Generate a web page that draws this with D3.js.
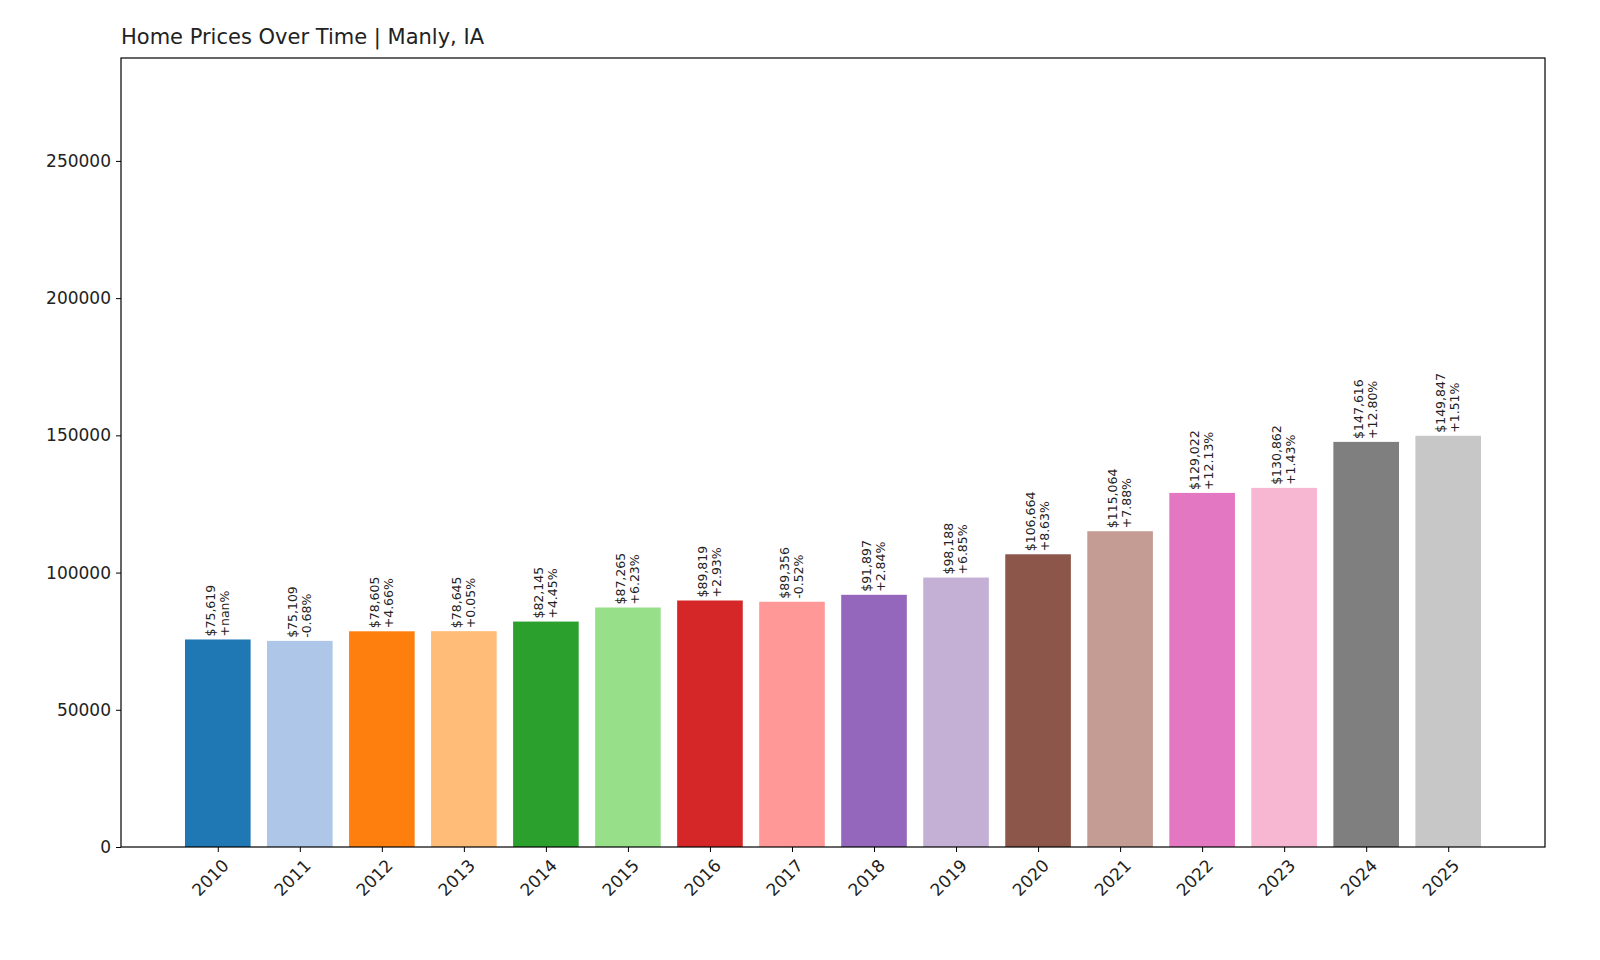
<!DOCTYPE html>
<html><head><meta charset="utf-8">
<script src="https://cdn.jsdelivr.net/npm/d3@7"></script>
<style>body{margin:0;background:#fff}text{font-family:"DejaVu Sans",sans-serif}</style>
</head><body><svg id="chart" width="1600" height="960"></svg>
<script>
// data
var years = ["2010","2011","2012","2013","2014","2015","2016","2017","2018","2019","2020","2021","2022","2023","2024","2025"];
var prices = [75619,75109,78605,78645,82145,87265,89819,89356,91897,98188,106664,115064,129022,130862,147616,149847];
var changes = ["+nan%","-0.68%","+4.66%","+0.05%","+4.45%","+6.23%","+2.93%","-0.52%","+2.84%","+6.85%","+8.63%","+7.88%","+12.13%","+1.43%","+12.80%","+1.51%"];
var colors = ["#1f77b4","#aec7e8","#ff7f0e","#ffbb78","#2ca02c","#98df8a","#d62728","#ff9896","#9467bd","#c5b0d5","#8c564b","#c49c94","#e377c2","#f7b6d2","#7f7f7f","#c7c7c7"];
var yTicks = [0,50000,100000,150000,200000,250000];

var svg = d3.select("#chart");
// plot box (window.top is reserved, so use other names)
var pLeft = 121, pRight = 1545, pTop = 58, pBottom = 847;

var x = d3.scaleLinear().domain([-1.18, years.length - 1 + 1.18]).range([pLeft, pRight]);
var y = d3.scaleLinear().domain([0, 287500]).range([pBottom, pTop]);
var bw = x(0.8) - x(0);

svg.selectAll("rect.bar").data(prices).enter().append("rect")
  .attr("x", function(d, i) { return x(i) - bw / 2; })
  .attr("y", function(d) { return y(d); })
  .attr("width", bw)
  .attr("height", function(d) { return pBottom - y(d); })
  .attr("fill", function(d, i) { return colors[i]; });

// value labels, rotated
var fmt = d3.format(",");
svg.selectAll("g.lbl").data(prices).enter().append("g")
  .attr("transform", function(d, i) { return "translate(" + x(i) + "," + (y(d) - 3) + ") rotate(-90)"; })
  .each(function(d, i) {
    var g = d3.select(this);
    g.append("text").attr("x", 0).attr("y", -3).attr("font-size", 12.5).attr("fill", "#222")
      .text("$" + fmt(d));
    g.append("text").attr("x", 0).attr("y", 11).attr("font-size", 12.5).attr("fill", "#222")
      .text(changes[i]);
  });

// axes
var yAxis = d3.axisLeft(y).tickValues(yTicks).tickFormat(d3.format("d")).tickSize(5).tickPadding(5);
var gy = svg.append("g").attr("transform", "translate(" + pLeft + ",0)").call(yAxis);
gy.select(".domain").remove();
gy.selectAll("text").attr("font-size", 17).attr("fill", "#222").style("font-family", "DejaVu Sans");

var xAxis = d3.axisBottom(x).tickValues(d3.range(years.length)).tickFormat(function(i) { return years[i]; }).tickSize(5);
var gx = svg.append("g").attr("transform", "translate(0," + pBottom + ")").call(xAxis);
gx.select(".domain").remove();
gx.selectAll("text").attr("font-size", 17).attr("fill", "#222").style("font-family", "DejaVu Sans")
  .attr("text-anchor", "end").attr("dx", 0).attr("dy", 0)
  .attr("transform", "translate(6,14) rotate(-45)");

svg.append("rect").attr("x", pLeft).attr("y", pTop).attr("width", pRight - pLeft).attr("height", pBottom - pTop)
  .attr("fill", "none").attr("stroke", "#000").attr("stroke-width", 1.2);

svg.append("text").attr("x", pLeft).attr("y", 44).attr("font-size", 21).attr("fill", "#222")
  .text("Home Prices Over Time | Manly, IA");
</script></body></html>
